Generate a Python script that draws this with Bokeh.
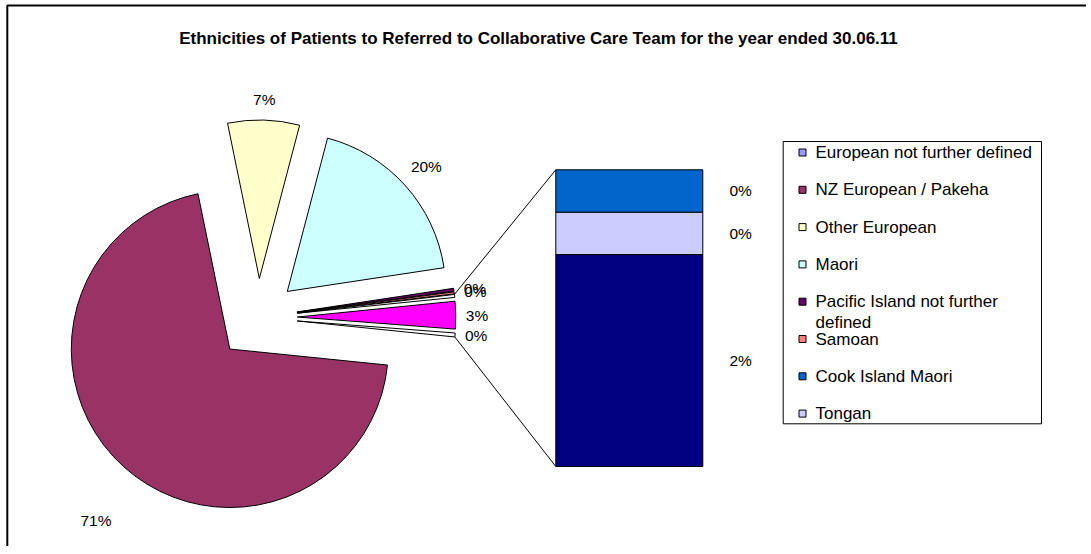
import math
from bokeh.plotting import figure
from bokeh.models import Range1d, BoxAnnotation
from bokeh.core.properties import value
from bokeh.embed import file_html
from bokeh.resources import INLINE

# ---------------- data ----------------
title_text = "Ethnicities of Patients to Referred to Collaborative Care Team for the year ended 30.06.11"

legend_names = ["European not further defined", "NZ European / Pakeha", "Other European", "Maori",
                "Pacific Island not further\ndefined", "Samoan", "Cook Island Maori", "Tongan"]
legend_colors = ["#9999FF", "#993366", "#FFFFCC", "#CCFFFF", "#660066", "#FF8080", "#0066CC", "#CCCCFF"]

# pie slices, clockwise from the start angle (percent of total)
pie_values = [0.0, 70.1, 7.3, 18.5, 0.3, 0.2, 0.3, 2.8, 0.4]
pie_colors = ["#9999FF", "#993366", "#FFFFCC", "#CCFFFF", "#660066", "#FF8080", "#FFFFFF", "#FF00FF", "#FFFFFF"]
pie_labels = ["", "71%", "7%", "20%", "0%", "0%", "", "3%", "0%"]

# secondary bar, bottom to top (percent of total)
bar_values = [2.0, 0.4, 0.4]
bar_colors = ["#000080", "#CCCCFF", "#0066CC"]
bar_labels = ["2%", "0%", "0%"]

# ---------------- layout / style ----------------
W, H = 1090, 550
OFF = -4          # page position of the plot's top-left corner
def Y(y):
    return 554 - y

FONT = value("Liberation Sans")
cx, cy = 257.8, Y(317)
R = 158.5
explode = [39, 42.5, 39, 39, 39, 39, 39, 39, 39]
start_deg = -5.8
label_gap = [0, 58.8, 20.5, 28.5, 10, 10, 0, 10, 10]
label_turn = [0, 4.1, 0, 0, 0, 0, 0, 0, 0]
label_align = ["left", "center", "center", "center", "left", "left", "left", "left", "left"]

y_top = Y(OFF)
p = figure(width=W, height=H, x_range=Range1d(OFF, OFF + W), y_range=Range1d(y_top - H, y_top),
           output_backend="svg", toolbar_location=None, min_border=0,
           x_axis_type=None, y_axis_type=None, outline_line_color=None,
           background_fill_color="white", border_fill_color="white")
p.margin = (-4, 0, 0, -4)

# chart border (left + top visible)
p.add_layout(BoxAnnotation(left=6.8, right=5000, top=Y(5), bottom=-5000,
                           fill_alpha=0, line_color="black", line_alpha=1.0, line_width=2))

# title
p.text(x=[538], y=[Y(38)], text=[title_text], text_align="center", text_baseline="middle",
       text_font=FONT, text_font_size="17px", text_font_style="bold", text_color="black")

# ---------------- pie ----------------
total = sum(pie_values)
a = math.radians(start_deg)
geo = []
for v, e in zip(pie_values, explode):
    span = 2 * math.pi * v / total
    a_end = a - span
    mid = (a + a_end) / 2
    geo.append(dict(start=a, end=a_end, mid=mid,
                    ax=cx + e * math.cos(mid), ay=cy + e * math.sin(mid)))
    a = a_end

idx = [i for i, v in enumerate(pie_values) if v > 0]
p.wedge(x=[geo[i]["ax"] for i in idx], y=[geo[i]["ay"] for i in idx], radius=R,
        start_angle=[geo[i]["end"] for i in idx], end_angle=[geo[i]["start"] for i in idx],
        direction="anticlock", fill_color=[pie_colors[i] for i in idx],
        line_color="black", line_width=1)

for align in ("left", "center"):
    xs, ys, ts = [], [], []
    for i, lab in enumerate(pie_labels):
        if not lab or label_align[i] != align:
            continue
        g = geo[i]
        ang = g["mid"] + math.radians(label_turn[i])
        d = R + label_gap[i]
        xs.append(g["ax"] + d * math.cos(ang))
        ys.append(g["ay"] + d * math.sin(ang))
        ts.append(lab)
    p.text(x=xs, y=ys, text=ts, text_align=align, text_baseline="middle",
           text_font=FONT, text_font_size="15.5px", text_color="black")

# ---------------- bar of pie ----------------
bar_left, bar_right = 555.3, 702.3
bar_base_y, bar_top_y = Y(466), Y(169.3)
bar_total = sum(bar_values)
k = (bar_top_y - bar_base_y) / bar_total
p.extra_y_ranges = {"bar": Range1d(start=(y_top - H - bar_base_y) / k, end=(y_top - bar_base_y) / k)}

bottoms, tops = [], []
acc = 0.0
for v in bar_values:
    bottoms.append(acc)
    acc += v
    tops.append(acc)
p.vbar(x=(bar_left + bar_right) / 2, width=bar_right - bar_left, bottom=bottoms, top=tops,
       fill_color=bar_colors, line_color="black", line_width=1, y_range_name="bar")
p.text(x=[729] * len(bar_values), y=[(b + t) / 2 for b, t in zip(bottoms, tops)], text=bar_labels,
       text_align="left", text_baseline="middle", text_font=FONT, text_font_size="15.5px",
       text_color="black", y_range_name="bar")

# connector lines from the pie's small-slice group to the bar
g_top, g_bot = geo[6], geo[8]
x0 = [g_top["ax"] + R * math.cos(g_top["start"]), g_bot["ax"] + R * math.cos(g_bot["end"])]
y0 = [g_top["ay"] + R * math.sin(g_top["start"]), g_bot["ay"] + R * math.sin(g_bot["end"])]
p.segment(x0=x0, y0=y0, x1=[bar_left, bar_left], y1=[bar_top_y, bar_base_y],
          line_color="black", line_width=1)

# ---------------- legend ----------------
leg_left, leg_right, leg_top, leg_bottom = 782.7, 1041, 141, 423.3
leg_first, leg_step, line_step = 152, 37.3, 21
p.quad(left=[leg_left], right=[leg_right], top=[Y(leg_top)], bottom=[Y(leg_bottom)],
       fill_color="white", line_color="black", line_width=1)
entry_y = [leg_first + i * leg_step for i in range(len(legend_names))]
p.scatter(x=[802] * len(legend_names), y=[Y(v) for v in entry_y], marker="square", size=7,
          fill_color=legend_colors, line_color="black", line_width=1)
tx, ty, tt = [], [], []
for name, ey in zip(legend_names, entry_y):
    for j, line in enumerate(name.split("\n")):
        tx.append(815)
        ty.append(Y(ey + j * line_step))
        tt.append(line)
p.text(x=tx, y=ty, text=tt, text_align="left", text_baseline="middle",
       text_font=FONT, text_font_size="17px", text_color="black")

open("out.html", "w").write(file_html(p, INLINE))
